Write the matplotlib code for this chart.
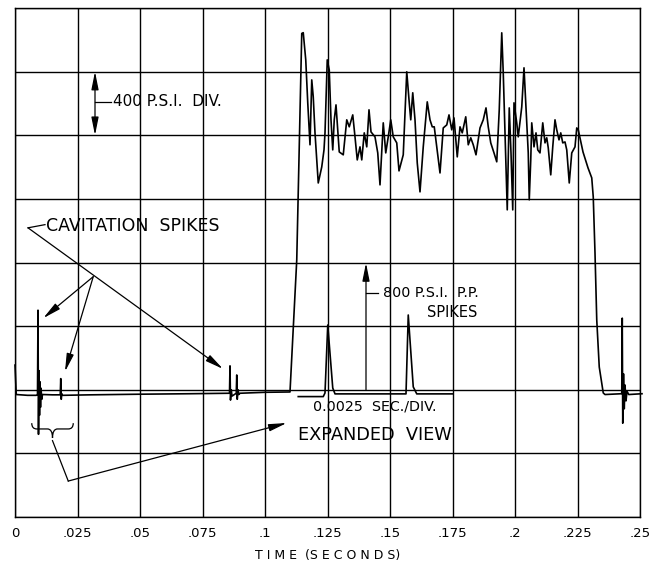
import numpy as np
import matplotlib
matplotlib.use("Agg")
import matplotlib.pyplot as plt
from matplotlib.path import Path
from matplotlib.patches import PathPatch

# pressure trace (time in seconds, pressure in psi, 400 psi per division)
main_t = [0.0000, 0.0005, 0.0050, 0.0085,
          0.0090, 0.0092, 0.0094, 0.0096, 0.0098, 0.0100, 0.0102, 0.0104, 0.0107, 0.0110,
          0.0150, 0.0181, 0.0183, 0.0185, 0.0187, 0.0190,
          0.0300, 0.0500, 0.0700, 0.0850,
          0.0858, 0.0860, 0.0862, 0.0865, 0.0868,
          0.0885, 0.0887, 0.0889, 0.0892, 0.0895, 0.0900,
          0.1000, 0.1100, 0.1127, 0.1147, 0.1153,
          0.1163, 0.1171, 0.1180, 0.1187, 0.1193, 0.1200, 0.1213, 0.1227, 0.1236, 0.1240,
          0.1249, 0.1257, 0.1264, 0.1271, 0.1277, 0.1284, 0.1291, 0.1297, 0.1313, 0.1327,
          0.1337, 0.1351, 0.1360, 0.1369, 0.1380, 0.1387, 0.1397, 0.1407, 0.1416, 0.1424,
          0.1440, 0.1451, 0.1460, 0.1473, 0.1483, 0.1493, 0.1503, 0.1513, 0.1527, 0.1536,
          0.1553, 0.1567, 0.1577, 0.1583, 0.1591, 0.1600, 0.1609, 0.1620, 0.1633, 0.1649,
          0.1660, 0.1669, 0.1677, 0.1687, 0.1700, 0.1713, 0.1727, 0.1736, 0.1747, 0.1756,
          0.1769, 0.1780, 0.1789, 0.1803, 0.1813, 0.1823, 0.1833, 0.1844, 0.1860, 0.1873,
          0.1884, 0.1893, 0.1903, 0.1916, 0.1927, 0.1937, 0.1947, 0.1953, 0.1964, 0.1969,
          0.1977, 0.1984, 0.1991, 0.1996, 0.2007, 0.2013, 0.2027, 0.2036, 0.2044, 0.2053,
          0.2057, 0.2063, 0.2067, 0.2076, 0.2084, 0.2091, 0.2100, 0.2111, 0.2120, 0.2127,
          0.2133, 0.2143, 0.2151, 0.2160, 0.2167, 0.2176, 0.2183, 0.2191, 0.2200, 0.2207,
          0.2217, 0.2227, 0.2240, 0.2247, 0.2253, 0.2272, 0.2292, 0.2307, 0.2313, 0.2320,
          0.2327, 0.2337, 0.2347, 0.2353, 0.2360, 0.2420,
          0.2427, 0.2429, 0.2431, 0.2434, 0.2437, 0.2440, 0.2444, 0.2448, 0.2455, 0.2508]
main_p = [955, 770, 765, 765,
          770, 1300, 520, 920, 640, 850, 690, 810, 740, 770,
          768, 768, 870, 740, 775, 765,
          768, 772, 775, 778,
          778, 950, 735, 800, 760,
          778, 893, 740, 800, 770, 778,
          784, 786, 1616, 3040, 3045,
          2874, 2604, 2340, 2748, 2641, 2415, 2100, 2201, 2308, 2415,
          2874, 2811, 2497, 2308, 2497, 2591, 2434, 2295, 2277, 2497,
          2453, 2528, 2390, 2245, 2327, 2245, 2415, 2327, 2560, 2421,
          2390, 2289, 2088, 2478, 2289, 2390, 2497, 2390, 2352, 2176,
          2277, 2799, 2604, 2497, 2667, 2497, 2226, 2044, 2327, 2610,
          2497, 2453, 2453, 2327, 2163, 2446, 2465, 2528, 2434, 2509,
          2264, 2453, 2415, 2516, 2340, 2384, 2340, 2277, 2446, 2497,
          2572, 2453, 2352, 2289, 2233, 2560, 3044, 2792, 2201, 1931,
          2572, 2289, 1931, 2604, 2478, 2390, 2578, 2824, 2578, 2289,
          1994, 2245, 2478, 2327, 2415, 2308, 2289, 2478, 2352, 2384,
          2321, 2151, 2327, 2497, 2434, 2371, 2415, 2352, 2358, 2308,
          2100, 2289, 2327, 2446, 2434, 2295, 2195, 2132, 2012, 1660,
          1239, 943, 843, 780, 770, 775,
          775, 1250, 590, 900, 680, 830, 730, 790, 770, 775]

# expanded view of the two cavitation spikes (0.0025 sec/div)
inset_t = [0.1133, 0.1233, 0.1240, 0.1251, 0.1271, 0.1280, 0.1564, 0.1573, 0.1593, 0.1607, 0.1752]
inset_p = [757, 757, 780, 1207, 811, 774, 774, 1270, 818, 774, 774]

x_ticks = [0, 0.025, 0.05, 0.075, 0.1, 0.125, 0.15, 0.175, 0.2, 0.225, 0.25]
x_labels = ["0", ".025", ".05", ".075", ".1", ".125", ".15", ".175", ".2", ".225", ".25"]
y_ticks = np.arange(0, 3201, 400)

plt.rcParams['font.family'] = ['DejaVu Sans']

fig = plt.figure(figsize=(6.56, 5.66), dpi=100)
ax = fig.add_axes([15/656, 1 - 517/566, 625/656, 509/566])

ax.plot(main_t, main_p, color='black', lw=1.2, clip_on=False, zorder=3)
ax.plot(inset_t, inset_p, color='black', lw=1.2, zorder=3)

ax.set_xlim(0, 0.25)
ax.set_ylim(0, 3200)
ax.set_xticks(x_ticks)
ax.set_xticklabels(x_labels, fontsize=9.5)
ax.set_yticks(y_ticks)
ax.set_yticklabels([])
ax.tick_params(length=0, pad=7)
ax.grid(True, color='black', lw=1.0)
for s in ax.spines.values():
    s.set_linewidth(1.0)
ax.set_xlabel("T I M E  (S E C O N D S)", fontsize=9, labelpad=7)

head = dict(arrowstyle="-|>,head_length=0.9,head_width=0.18", color='black', lw=0.9,
            mutation_scale=12, shrinkA=0, shrinkB=0)

# 400 psi per division marker
ax.annotate("", xy=(0.032, 2800), xytext=(0.032, 2400),
            arrowprops=dict(arrowstyle="<|-|>,head_length=0.9,head_width=0.18", color='black',
                            lw=0.9, mutation_scale=12, shrinkA=0, shrinkB=0))
ax.plot([0.032, 0.0385], [2610, 2610], color='black', lw=0.9)
ax.text(0.0393, 2610, "400 P.S.I.  DIV.", fontsize=11, va='center', ha='left')

# cavitation spikes callout
ax.text(0.0125, 1830, "CAVITATION  SPIKES", fontsize=12.5, va='center', ha='left')
ax.plot([0.0120, 0.0052], [1838, 1818], color='black', lw=0.9)
ax.annotate("", xy=(0.0832, 931), xytext=(0.0052, 1818), arrowprops=head)
ax.annotate("", xy=(0.0113, 1250), xytext=(0.0313, 1511), arrowprops=head)
ax.annotate("", xy=(0.0200, 914), xytext=(0.0313, 1511), arrowprops=head)

# brace under the first spikes and pointer to the expanded view
b0, b1, top, bot = 0.0067, 0.0233, 590, 497
bm = (b0 + b1) / 2
midy = (top + bot) / 2 + 10
q = (b1 - b0) * 0.12
verts = [(b0, top), (b0, midy), (b0 + q, midy), (bm - q, midy), (bm, midy), (bm, bot),
         (bm, midy), (bm + q, midy), (b1 - q, midy), (b1, midy), (b1, top)]
codes = [Path.MOVETO, Path.CURVE3, Path.CURVE3, Path.LINETO, Path.CURVE3, Path.CURVE3,
         Path.CURVE3, Path.CURVE3, Path.LINETO, Path.CURVE3, Path.CURVE3]
ax.add_patch(PathPatch(Path(verts, codes), fill=False, color='black', lw=0.9))
ax.plot([bm, 0.0213], [480, 226], color='black', lw=0.9)
ax.annotate("", xy=(0.1087, 591), xytext=(0.0213, 226), arrowprops=head)

# 800 psi peak-to-peak marker
ax.annotate("", xy=(0.1404, 1597), xytext=(0.1404, 800), arrowprops=head)
ax.plot([0.1404, 0.1452], [1409, 1409], color='black', lw=0.9)
ax.text(0.1472, 1409, "800 P.S.I.  P.P.", fontsize=10.3, va='center', ha='left')
ax.text(0.1648, 1283, "SPIKES", fontsize=10.5, va='center', ha='left')

ax.text(0.1192, 692, "0.0025  SEC./DIV.", fontsize=10.3, va='center', ha='left')
ax.text(0.1132, 516, "EXPANDED  VIEW", fontsize=12.8, va='center', ha='left')

fig.savefig("out.png", dpi=100)
